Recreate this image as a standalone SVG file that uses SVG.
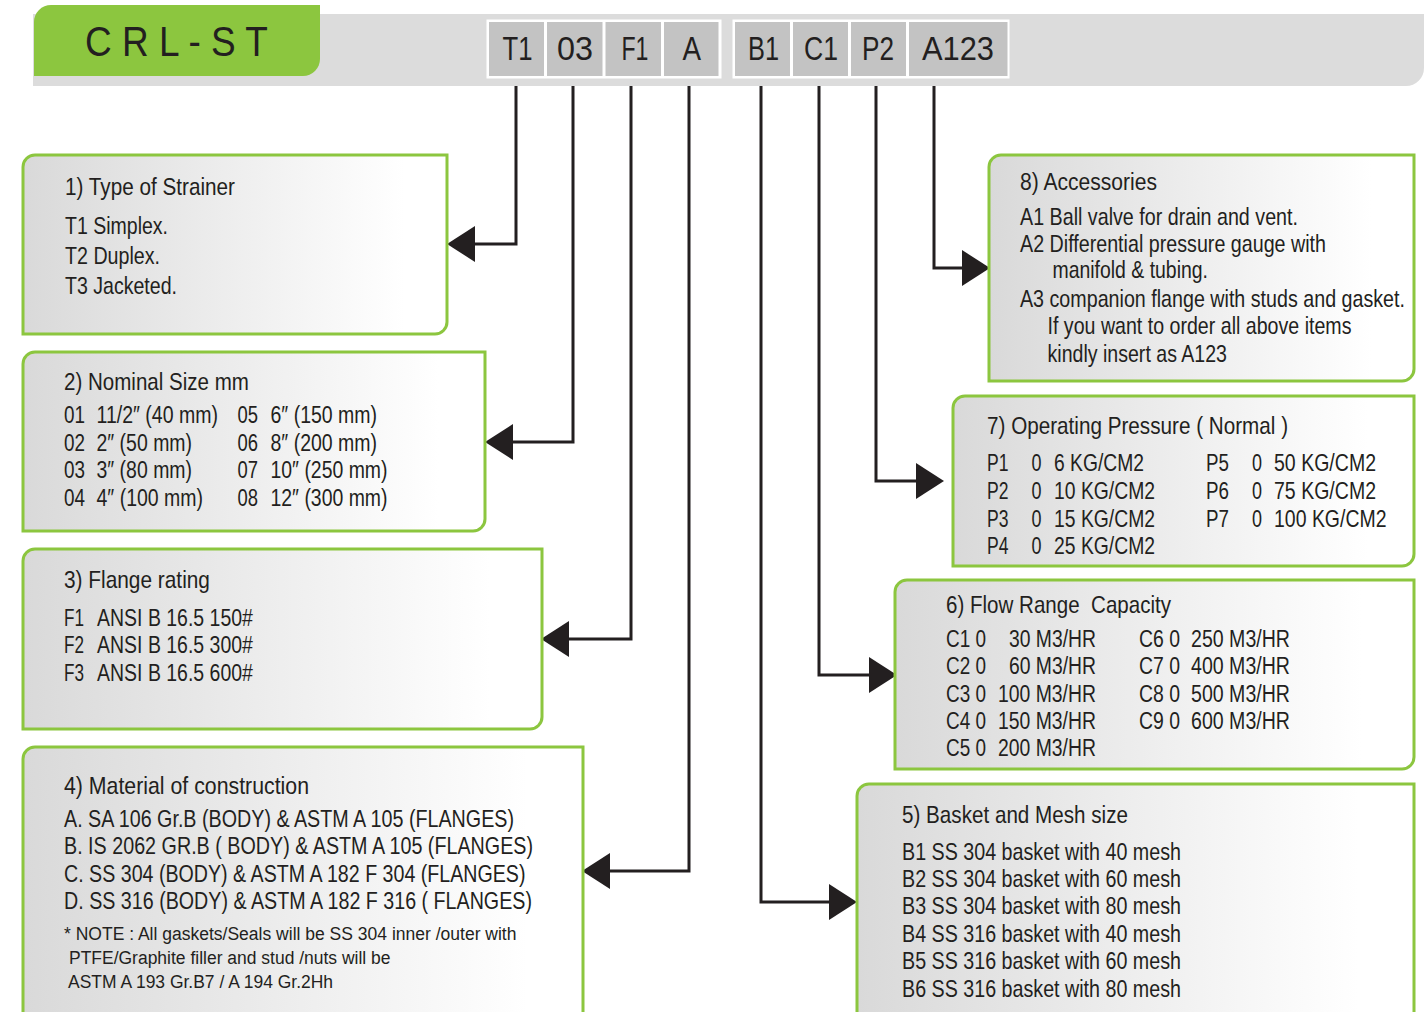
<svg xmlns="http://www.w3.org/2000/svg" width="1426" height="1012" viewBox="0 0 1426 1012">
<defs>
<style>
text{font-family:"Liberation Sans",Arial,sans-serif;fill:#231f20}
.t{font-size:24px}
.n{font-size:19px}
.code{font-size:33px}
.ttl{font-size:42px}
.box path{fill:url(#boxfill);stroke:#8cc63f;stroke-width:3}
.cell{fill:#c3c3c3}
.frame{fill:#ffffff}
.conn path{fill:none;stroke:#231f20;stroke-width:3;stroke-linejoin:miter;marker-end:url(#ah)}
</style>
<linearGradient id="boxfill" x1="0" y1="0" x2="1" y2="0">
<stop offset="0" stop-color="#d9d9d9"/>
<stop offset="0.9" stop-color="#ffffff"/>
<stop offset="1" stop-color="#ffffff"/>
</linearGradient>
<marker id="ah" viewBox="0 0 28 36" markerWidth="28" markerHeight="36" refX="0" refY="18" orient="auto" markerUnits="userSpaceOnUse">
<path d="M0,0 L28,18 L0,36 Z" fill="#231f20"/>
</marker>
</defs>
<rect x="0" y="0" width="1426" height="1012" fill="#ffffff"/>

<g id="header">
<path d="M33,14 H1424 V68 A18,18 0 0 1 1406,86 H33 Z" fill="#dcdcdc"/>
<path d="M51,5 H320 V59 A17,17 0 0 1 303,76 H34 V22 A17,17 0 0 1 51,5 Z" fill="#8cc63f"/>
<text class="ttl" transform="translate(85 56) scale(0.82 1)" textLength="223" lengthAdjust="spacingAndGlyphs" xml:space="preserve">C R L - S T</text>
</g>

<g id="code-group-1">
<rect class="frame" x="486.5" y="19.5" width="235" height="59"/>
<rect class="cell" x="489" y="22" width="55" height="54"/>
<rect class="cell" x="547" y="22" width="55.5" height="54"/>
<rect class="cell" x="605.5" y="22" width="55.5" height="54"/>
<rect class="cell" x="664" y="22" width="54.5" height="54"/>
<text class="code" transform="translate(502.5 60) scale(0.82 1)" textLength="36.6" lengthAdjust="spacingAndGlyphs">T1</text>
<text class="code" transform="translate(557 60) scale(0.82 1)" textLength="43.9" lengthAdjust="spacingAndGlyphs">03</text>
<text class="code" transform="translate(621.5 60) scale(0.82 1)" textLength="32.9" lengthAdjust="spacingAndGlyphs">F1</text>
<text class="code" transform="translate(682.5 60) scale(0.82 1)" textLength="22.6" lengthAdjust="spacingAndGlyphs">A</text>
</g>

<g id="code-group-2">
<rect class="frame" x="732.5" y="19.5" width="277" height="59"/>
<rect class="cell" x="735" y="22" width="55" height="54"/>
<rect class="cell" x="793" y="22" width="55" height="54"/>
<rect class="cell" x="851" y="22" width="55" height="54"/>
<rect class="cell" x="909" y="22" width="98.5" height="54"/>
<text class="code" transform="translate(748 60) scale(0.82 1)" textLength="37.8" lengthAdjust="spacingAndGlyphs">B1</text>
<text class="code" transform="translate(804 60) scale(0.82 1)" textLength="41.5" lengthAdjust="spacingAndGlyphs">C1</text>
<text class="code" transform="translate(862 60) scale(0.82 1)" textLength="39" lengthAdjust="spacingAndGlyphs">P2</text>
<text class="code" transform="translate(922 60) scale(0.82 1)" textLength="87.8" lengthAdjust="spacingAndGlyphs">A123</text>
</g>

<g id="connectors" class="conn">
<path d="M516,86 V244 H475"/>
<path d="M573,86 V442 H513"/>
<path d="M631,86 V639 H569"/>
<path d="M689,86 V871 H610"/>
<path d="M761,86 V902 H829"/>
<path d="M819,86 V675 H869"/>
<path d="M876,86 V481 H916"/>
<path d="M934,86 V268 H962"/>
</g>

<g id="box1" class="box">
<path d="M35,155 H447 V322 A12,12 0 0 1 435,334 H23 V167 A12,12 0 0 1 35,155 Z"/>
<text class="t" transform="translate(65 195) scale(0.82 1)" textLength="207.3" lengthAdjust="spacingAndGlyphs">1) Type of Strainer</text>
<text class="t" transform="translate(65 234) scale(0.82 1)" textLength="125.6" lengthAdjust="spacingAndGlyphs">T1 Simplex.</text>
<text class="t" transform="translate(65 264) scale(0.82 1)" textLength="115.9" lengthAdjust="spacingAndGlyphs">T2 Duplex.</text>
<text class="t" transform="translate(65 294) scale(0.82 1)" textLength="136.6" lengthAdjust="spacingAndGlyphs">T3 Jacketed.</text>
</g>

<g id="box2" class="box">
<path d="M35,352 H485 V519 A12,12 0 0 1 473,531 H23 V364 A12,12 0 0 1 35,352 Z"/>
<text class="t" transform="translate(64 390) scale(0.82 1)" textLength="225.6" lengthAdjust="spacingAndGlyphs">2) Nominal Size mm</text>
<text class="t" transform="translate(64 423) scale(0.82 1)" textLength="25.6" lengthAdjust="spacingAndGlyphs">01</text>
<text class="t" transform="translate(96.5 423) scale(0.82 1)" textLength="148.2" lengthAdjust="spacingAndGlyphs">11/2″ (40 mm)</text>
<text class="t" transform="translate(64 451) scale(0.82 1)" textLength="25.6" lengthAdjust="spacingAndGlyphs">02</text>
<text class="t" transform="translate(96.5 451) scale(0.82 1)" textLength="116.5" lengthAdjust="spacingAndGlyphs">2″ (50 mm)</text>
<text class="t" transform="translate(64 478) scale(0.82 1)" textLength="25.6" lengthAdjust="spacingAndGlyphs">03</text>
<text class="t" transform="translate(96.5 478) scale(0.82 1)" textLength="116.5" lengthAdjust="spacingAndGlyphs">3″ (80 mm)</text>
<text class="t" transform="translate(64 506) scale(0.82 1)" textLength="25.6" lengthAdjust="spacingAndGlyphs">04</text>
<text class="t" transform="translate(96.5 506) scale(0.82 1)" textLength="129.9" lengthAdjust="spacingAndGlyphs">4″ (100 mm)</text>
<text class="t" transform="translate(237.5 423) scale(0.82 1)" textLength="25" lengthAdjust="spacingAndGlyphs">05</text>
<text class="t" transform="translate(270.5 423) scale(0.82 1)" textLength="129.9" lengthAdjust="spacingAndGlyphs">6″ (150 mm)</text>
<text class="t" transform="translate(237.5 451) scale(0.82 1)" textLength="25" lengthAdjust="spacingAndGlyphs">06</text>
<text class="t" transform="translate(270.5 451) scale(0.82 1)" textLength="129.9" lengthAdjust="spacingAndGlyphs">8″ (200 mm)</text>
<text class="t" transform="translate(237.5 478) scale(0.82 1)" textLength="25" lengthAdjust="spacingAndGlyphs">07</text>
<text class="t" transform="translate(270.5 478) scale(0.82 1)" textLength="142.7" lengthAdjust="spacingAndGlyphs">10″ (250 mm)</text>
<text class="t" transform="translate(237.5 506) scale(0.82 1)" textLength="25" lengthAdjust="spacingAndGlyphs">08</text>
<text class="t" transform="translate(270.5 506) scale(0.82 1)" textLength="142.7" lengthAdjust="spacingAndGlyphs">12″ (300 mm)</text>
</g>

<g id="box3" class="box">
<path d="M35,549 H542 V717 A12,12 0 0 1 530,729 H23 V561 A12,12 0 0 1 35,549 Z"/>
<text class="t" transform="translate(64 588) scale(0.82 1)" textLength="178" lengthAdjust="spacingAndGlyphs">3) Flange rating</text>
<text class="t" transform="translate(64 626) scale(0.82 1)" textLength="24.4" lengthAdjust="spacingAndGlyphs">F1</text>
<text class="t" transform="translate(97 626) scale(0.82 1)" textLength="190.2" lengthAdjust="spacingAndGlyphs">ANSI B 16.5 150#</text>
<text class="t" transform="translate(64 653) scale(0.82 1)" textLength="24.4" lengthAdjust="spacingAndGlyphs">F2</text>
<text class="t" transform="translate(97 653) scale(0.82 1)" textLength="190.2" lengthAdjust="spacingAndGlyphs">ANSI B 16.5 300#</text>
<text class="t" transform="translate(64 681) scale(0.82 1)" textLength="24.4" lengthAdjust="spacingAndGlyphs">F3</text>
<text class="t" transform="translate(97 681) scale(0.82 1)" textLength="190.2" lengthAdjust="spacingAndGlyphs">ANSI B 16.5 600#</text>
</g>

<g id="box4" class="box">
<path d="M35,747 H583 V1030 H23 V759 A12,12 0 0 1 35,747 Z"/>
<text class="t" transform="translate(64 794) scale(0.82 1)" textLength="298.8" lengthAdjust="spacingAndGlyphs">4) Material of construction</text>
<text class="t" transform="translate(64 827) scale(0.82 1)" textLength="548.8" lengthAdjust="spacingAndGlyphs">A. SA 106 Gr.B (BODY) &amp; ASTM A 105 (FLANGES)</text>
<text class="t" transform="translate(64 854) scale(0.82 1)" textLength="572" lengthAdjust="spacingAndGlyphs">B. IS 2062 GR.B ( BODY) &amp; ASTM A 105 (FLANGES)</text>
<text class="t" transform="translate(64 882) scale(0.82 1)" textLength="562.8" lengthAdjust="spacingAndGlyphs">C. SS 304 (BODY) &amp; ASTM A 182 F 304 (FLANGES)</text>
<text class="t" transform="translate(64 909) scale(0.82 1)" textLength="570.7" lengthAdjust="spacingAndGlyphs">D. SS 316 (BODY) &amp; ASTM A 182 F 316 ( FLANGES)</text>
<text class="n" transform="translate(64 940) scale(0.82 1)" textLength="551.8" lengthAdjust="spacingAndGlyphs">* NOTE : All gaskets/Seals will be SS 304 inner /outer with</text>
<text class="n" transform="translate(69 964) scale(0.82 1)" textLength="392.1" lengthAdjust="spacingAndGlyphs">PTFE/Graphite filler and stud /nuts will be</text>
<text class="n" transform="translate(68 988) scale(0.82 1)" textLength="323.2" lengthAdjust="spacingAndGlyphs">ASTM A 193 Gr.B7 / A 194 Gr.2Hh</text>
</g>

<g id="box5" class="box">
<path d="M869,784 H1414 V1030 H857 V796 A12,12 0 0 1 869,784 Z"/>
<text class="t" transform="translate(902 823) scale(0.82 1)" textLength="275.6" lengthAdjust="spacingAndGlyphs">5) Basket and Mesh size</text>
<text class="t" transform="translate(902 860) scale(0.82 1)" textLength="340.2" lengthAdjust="spacingAndGlyphs">B1 SS 304 basket with 40 mesh</text>
<text class="t" transform="translate(902 887) scale(0.82 1)" textLength="340.2" lengthAdjust="spacingAndGlyphs">B2 SS 304 basket with 60 mesh</text>
<text class="t" transform="translate(902 914) scale(0.82 1)" textLength="340.2" lengthAdjust="spacingAndGlyphs">B3 SS 304 basket with 80 mesh</text>
<text class="t" transform="translate(902 942) scale(0.82 1)" textLength="340.2" lengthAdjust="spacingAndGlyphs">B4 SS 316 basket with 40 mesh</text>
<text class="t" transform="translate(902 969) scale(0.82 1)" textLength="340.2" lengthAdjust="spacingAndGlyphs">B5 SS 316 basket with 60 mesh</text>
<text class="t" transform="translate(902 997) scale(0.82 1)" textLength="340.2" lengthAdjust="spacingAndGlyphs">B6 SS 316 basket with 80 mesh</text>
</g>

<g id="box6" class="box">
<path d="M907,580 H1414 V757 A12,12 0 0 1 1402,769 H895 V592 A12,12 0 0 1 907,580 Z"/>
<text class="t" transform="translate(946 613) scale(0.82 1)" textLength="274.4" lengthAdjust="spacingAndGlyphs" xml:space="preserve">6) Flow Range  Capacity</text>
<text class="t" transform="translate(946 647) scale(0.82 1)" textLength="48.8" lengthAdjust="spacingAndGlyphs">C1 0</text>
<text class="t" transform="translate(1009 647) scale(0.82 1)" textLength="106.1" lengthAdjust="spacingAndGlyphs">30 M3/HR</text>
<text class="t" transform="translate(946 674) scale(0.82 1)" textLength="48.8" lengthAdjust="spacingAndGlyphs">C2 0</text>
<text class="t" transform="translate(1009 674) scale(0.82 1)" textLength="106.1" lengthAdjust="spacingAndGlyphs">60 M3/HR</text>
<text class="t" transform="translate(946 702) scale(0.82 1)" textLength="48.8" lengthAdjust="spacingAndGlyphs">C3 0</text>
<text class="t" transform="translate(998 702) scale(0.82 1)" textLength="119.5" lengthAdjust="spacingAndGlyphs">100 M3/HR</text>
<text class="t" transform="translate(946 729) scale(0.82 1)" textLength="48.8" lengthAdjust="spacingAndGlyphs">C4 0</text>
<text class="t" transform="translate(998 729) scale(0.82 1)" textLength="119.5" lengthAdjust="spacingAndGlyphs">150 M3/HR</text>
<text class="t" transform="translate(946 756) scale(0.82 1)" textLength="48.8" lengthAdjust="spacingAndGlyphs">C5 0</text>
<text class="t" transform="translate(998 756) scale(0.82 1)" textLength="119.5" lengthAdjust="spacingAndGlyphs">200 M3/HR</text>
<text class="t" transform="translate(1139 647) scale(0.82 1)" textLength="50" lengthAdjust="spacingAndGlyphs">C6 0</text>
<text class="t" transform="translate(1191 647) scale(0.82 1)" textLength="120.7" lengthAdjust="spacingAndGlyphs">250 M3/HR</text>
<text class="t" transform="translate(1139 674) scale(0.82 1)" textLength="50" lengthAdjust="spacingAndGlyphs">C7 0</text>
<text class="t" transform="translate(1191 674) scale(0.82 1)" textLength="120.7" lengthAdjust="spacingAndGlyphs">400 M3/HR</text>
<text class="t" transform="translate(1139 702) scale(0.82 1)" textLength="50" lengthAdjust="spacingAndGlyphs">C8 0</text>
<text class="t" transform="translate(1191 702) scale(0.82 1)" textLength="120.7" lengthAdjust="spacingAndGlyphs">500 M3/HR</text>
<text class="t" transform="translate(1139 729) scale(0.82 1)" textLength="50" lengthAdjust="spacingAndGlyphs">C9 0</text>
<text class="t" transform="translate(1191 729) scale(0.82 1)" textLength="120.7" lengthAdjust="spacingAndGlyphs">600 M3/HR</text>
</g>

<g id="box7" class="box">
<path d="M965,396 H1414 V554 A12,12 0 0 1 1402,566 H953 V408 A12,12 0 0 1 965,396 Z"/>
<text class="t" transform="translate(987 434) scale(0.82 1)" textLength="367.1" lengthAdjust="spacingAndGlyphs">7) Operating Pressure ( Normal )</text>
<text class="t" transform="translate(987 471) scale(0.82 1)" textLength="26.2" lengthAdjust="spacingAndGlyphs">P1</text>
<text class="t" transform="translate(1031.5 471) scale(0.82 1)" textLength="12.2" lengthAdjust="spacingAndGlyphs">0</text>
<text class="t" transform="translate(1054 471) scale(0.82 1)" textLength="109.8" lengthAdjust="spacingAndGlyphs">6 KG/CM2</text>
<text class="t" transform="translate(987 499) scale(0.82 1)" textLength="26.2" lengthAdjust="spacingAndGlyphs">P2</text>
<text class="t" transform="translate(1031.5 499) scale(0.82 1)" textLength="12.2" lengthAdjust="spacingAndGlyphs">0</text>
<text class="t" transform="translate(1054 499) scale(0.82 1)" textLength="123.2" lengthAdjust="spacingAndGlyphs">10 KG/CM2</text>
<text class="t" transform="translate(987 526.5) scale(0.82 1)" textLength="26.2" lengthAdjust="spacingAndGlyphs">P3</text>
<text class="t" transform="translate(1031.5 526.5) scale(0.82 1)" textLength="12.2" lengthAdjust="spacingAndGlyphs">0</text>
<text class="t" transform="translate(1054 526.5) scale(0.82 1)" textLength="123.2" lengthAdjust="spacingAndGlyphs">15 KG/CM2</text>
<text class="t" transform="translate(987 554) scale(0.82 1)" textLength="26.2" lengthAdjust="spacingAndGlyphs">P4</text>
<text class="t" transform="translate(1031.5 554) scale(0.82 1)" textLength="12.2" lengthAdjust="spacingAndGlyphs">0</text>
<text class="t" transform="translate(1054 554) scale(0.82 1)" textLength="123.2" lengthAdjust="spacingAndGlyphs">25 KG/CM2</text>
<text class="t" transform="translate(1206 471) scale(0.82 1)" textLength="28" lengthAdjust="spacingAndGlyphs">P5</text>
<text class="t" transform="translate(1252 471) scale(0.82 1)" textLength="12.2" lengthAdjust="spacingAndGlyphs">0</text>
<text class="t" transform="translate(1274 471) scale(0.82 1)" textLength="124.4" lengthAdjust="spacingAndGlyphs">50 KG/CM2</text>
<text class="t" transform="translate(1206 499) scale(0.82 1)" textLength="28" lengthAdjust="spacingAndGlyphs">P6</text>
<text class="t" transform="translate(1252 499) scale(0.82 1)" textLength="12.2" lengthAdjust="spacingAndGlyphs">0</text>
<text class="t" transform="translate(1274 499) scale(0.82 1)" textLength="124.4" lengthAdjust="spacingAndGlyphs">75 KG/CM2</text>
<text class="t" transform="translate(1206 526.5) scale(0.82 1)" textLength="28" lengthAdjust="spacingAndGlyphs">P7</text>
<text class="t" transform="translate(1252 526.5) scale(0.82 1)" textLength="12.2" lengthAdjust="spacingAndGlyphs">0</text>
<text class="t" transform="translate(1274 526.5) scale(0.82 1)" textLength="137.2" lengthAdjust="spacingAndGlyphs">100 KG/CM2</text>
</g>

<g id="box8" class="box">
<path d="M1001,155 H1414 V369 A12,12 0 0 1 1402,381 H989 V167 A12,12 0 0 1 1001,155 Z"/>
<text class="t" transform="translate(1020 190) scale(0.82 1)" textLength="167.1" lengthAdjust="spacingAndGlyphs">8) Accessories</text>
<text class="t" transform="translate(1020 224.5) scale(0.82 1)" textLength="339" lengthAdjust="spacingAndGlyphs">A1 Ball valve for drain and vent.</text>
<text class="t" transform="translate(1020 251.5) scale(0.82 1)" textLength="373.2" lengthAdjust="spacingAndGlyphs">A2 Differential pressure gauge with</text>
<text class="t" transform="translate(1052.5 278) scale(0.82 1)" textLength="189.6" lengthAdjust="spacingAndGlyphs">manifold &amp; tubing.</text>
<text class="t" transform="translate(1020 306.5) scale(0.82 1)" textLength="469.5" lengthAdjust="spacingAndGlyphs">A3 companion flange with studs and gasket.</text>
<text class="t" transform="translate(1047.5 334) scale(0.82 1)" textLength="370.7" lengthAdjust="spacingAndGlyphs">If you want to order all above items</text>
<text class="t" transform="translate(1047.5 361.5) scale(0.82 1)" textLength="218.9" lengthAdjust="spacingAndGlyphs">kindly insert as A123</text>
</g>
</svg>
